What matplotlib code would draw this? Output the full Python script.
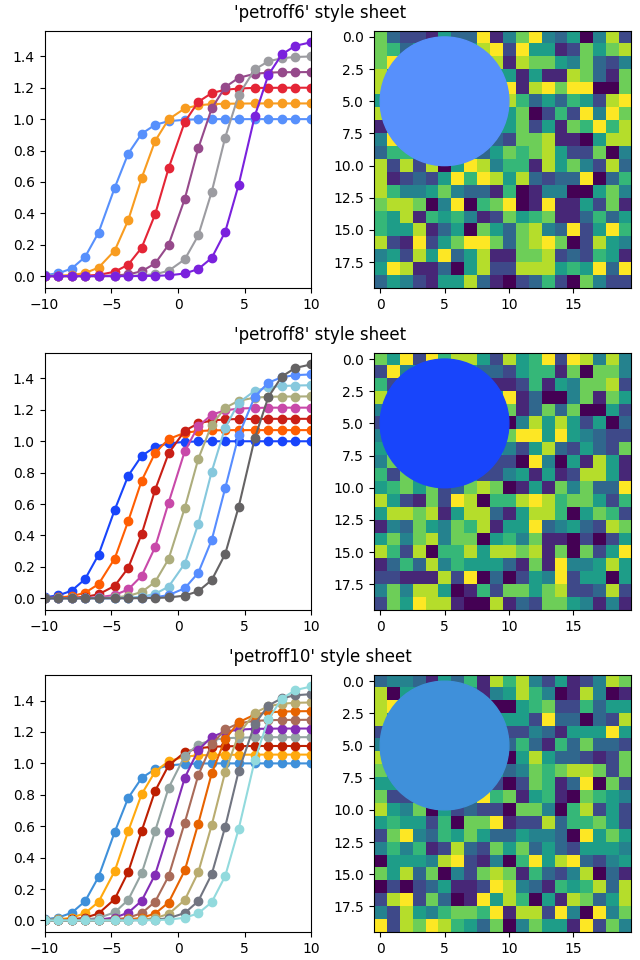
import matplotlib.pyplot as plt
import numpy as np

# x positions of the markers (also the line vertices)
x_pts = [-10.0, -8.99, -7.98, -6.97, -5.96, -4.747, -3.737, -2.727, -1.717, -0.707,
         0.505, 1.515, 2.525, 3.535, 4.545, 5.758, 6.768, 7.778, 8.788, 10.0]

# shared first / last curves
y_first = [0.007, 0.018, 0.048, 0.122, 0.277, 0.563, 0.780, 0.907, 0.964, 0.987,
           0.996, 0.999, 1.0, 1.0, 1.0, 1.0, 1.0, 1.0, 1.0, 1.0]
y_last = [0.0, 0.0, 0.0, 0.0, 0.0, 0.0, 0.0, 0.001, 0.002, 0.005,
          0.017, 0.045, 0.116, 0.282, 0.582, 1.021, 1.281, 1.412, 1.467, 1.490]

y_petroff6 = [
    y_first,
    [0.001, 0.003, 0.007, 0.020, 0.054, 0.163, 0.356, 0.625, 0.861, 0.999,
     1.068, 1.088, 1.096, 1.098, 1.099, 1.1, 1.1, 1.1, 1.1, 1.1],
    [0.0, 0.0, 0.001, 0.003, 0.008, 0.028, 0.073, 0.181, 0.394, 0.687,
     0.982, 1.110, 1.166, 1.187, 1.195, 1.199, 1.199, 1.2, 1.2, 1.2],
    [0.0, 0.0, 0.0, 0.0, 0.001, 0.004, 0.011, 0.031, 0.081, 0.200,
     0.492, 0.814, 1.068, 1.204, 1.263, 1.289, 1.296, 1.299, 1.299, 1.3],
    [0.0, 0.0, 0.0, 0.0, 0.0, 0.001, 0.002, 0.005, 0.012, 0.034,
     0.107, 0.259, 0.537, 0.883, 1.154, 1.317, 1.368, 1.388, 1.396, 1.399],
    y_last,
]

y_petroff8 = [
    y_first,
    [0.002, 0.005, 0.013, 0.035, 0.090, 0.253, 0.491, 0.749, 0.926, 1.014,
     1.054, 1.065, 1.069, 1.071, 1.071, 1.071, 1.071, 1.071, 1.071, 1.071],
    [0.0, 0.001, 0.003, 0.009, 0.025, 0.079, 0.193, 0.409, 0.691, 0.923,
     1.067, 1.114, 1.132, 1.139, 1.142, 1.142, 1.143, 1.143, 1.143, 1.143],
    [0.0, 0.0, 0.001, 0.002, 0.006, 0.021, 0.056, 0.143, 0.326, 0.609,
     0.937, 1.096, 1.169, 1.197, 1.208, 1.212, 1.214, 1.214, 1.214, 1.214],
    [0.0, 0.0, 0.0, 0.001, 0.002, 0.005, 0.015, 0.040, 0.104, 0.250,
     0.576, 0.887, 1.105, 1.213, 1.258, 1.278, 1.283, 1.285, 1.285, 1.286],
    [0.0, 0.0, 0.0, 0.0, 0.0, 0.001, 0.004, 0.010, 0.028, 0.074,
     0.221, 0.472, 0.807, 1.087, 1.245, 1.322, 1.344, 1.352, 1.355, 1.357],
    [0.0, 0.0, 0.0, 0.0, 0.0, 0.0, 0.001, 0.003, 0.007, 0.020,
     0.064, 0.162, 0.371, 0.701, 1.037, 1.285, 1.373, 1.408, 1.421, 1.426],
    y_last,
]

y_petroff10 = [
    y_first,
    [0.002, 0.006, 0.017, 0.046, 0.118, 0.314, 0.568, 0.804, 0.948, 1.014,
     1.043, 1.051, 1.054, 1.055, 1.055, 1.056, 1.056, 1.056, 1.056, 1.056],
    [0.001, 0.002, 0.006, 0.017, 0.044, 0.136, 0.308, 0.570, 0.825, 0.987,
     1.071, 1.096, 1.106, 1.109, 1.110, 1.111, 1.111, 1.111, 1.111, 1.111],
    [0.0, 0.001, 0.002, 0.006, 0.016, 0.051, 0.131, 0.300, 0.569, 0.844,
     1.048, 1.120, 1.149, 1.160, 1.164, 1.166, 1.167, 1.167, 1.167, 1.167],
    [0.0, 0.0, 0.001, 0.002, 0.005, 0.018, 0.049, 0.125, 0.292, 0.565,
     0.908, 1.085, 1.169, 1.202, 1.215, 1.220, 1.221, 1.222, 1.222, 1.222],
    [0.0, 0.0, 0.0, 0.001, 0.002, 0.006, 0.017, 0.046, 0.119, 0.282,
     0.623, 0.924, 1.121, 1.216, 1.255, 1.271, 1.275, 1.277, 1.277, 1.278],
    [0.0, 0.0, 0.0, 0.0, 0.001, 0.002, 0.006, 0.016, 0.044, 0.114,
     0.318, 0.616, 0.936, 1.155, 1.262, 1.311, 1.325, 1.330, 1.332, 1.333],
    [0.0, 0.0, 0.0, 0.0, 0.0, 0.001, 0.002, 0.006, 0.015, 0.041,
     0.130, 0.306, 0.607, 0.945, 1.186, 1.322, 1.364, 1.380, 1.386, 1.388],
    [0.0, 0.0, 0.0, 0.0, 0.0, 0.0, 0.001, 0.002, 0.005, 0.014,
     0.047, 0.123, 0.294, 0.596, 0.951, 1.251, 1.368, 1.415, 1.434, 1.441],
    y_last,
]

colors_petroff6 = ['#5790fc', '#f89c20', '#e42536', '#964a8b', '#9c9ca1', '#7a21dd']
colors_petroff8 = ['#1845fb', '#ff5e02', '#c91f16', '#c849a9', '#adad7d', '#86c8dd',
                   '#578dff', '#656364']
colors_petroff10 = ['#3f90da', '#ffa90e', '#bd1f01', '#94a4a2', '#832db6', '#a96b59',
                    '#e76300', '#b9ac70', '#717581', '#92dadd']

# 20x20 image cells, each digit is a level 0..9 of the colour map
img_petroff6 = [
    "73221533914794350482",
    "76355555892955127578",
    "79555555581877547324",
    "85555555555151187317",
    "85555555559189799007",
    "55555555558635365289",
    "85555555555702629497",
    "15555555555725176968",
    "49555555532778110588",
    "36655555357678522704",
    "82828059846618574283",
    "81232596985832339036",
    "86445743316014400574",
    "78870490679019115271",
    "65816564127567113635",
    "65581350753784392596",
    "82192579973789702854",
    "45285935811778232651",
    "59811305822888565939",
    "35421558310236207422",
]
img_petroff8 = [
    "75929688528569298484",
    "29455555332566170774",
    "62555555511261547782",
    "85555555559130047175",
    "45555555557137370052",
    "25555555550485852503",
    "45555555557995954322",
    "55555555554258325327",
    "47555555522094051851",
    "62755555224515128851",
    "56757237870151747339",
    "85217298066898677526",
    "58878158831588605762",
    "14375476815593453287",
    "57478477056471102025",
    "86280668588781707259",
    "13638465553171944585",
    "22111829030254925505",
    "47488501627757822382",
    "27598810081327754141",
]
img_petroff10 = [
    "34431536186842512487",
    "80555555145864018401",
    "89555555500567226355",
    "85555555555529330328",
    "25555555552243155595",
    "45555555553631637332",
    "85555555550585332127",
    "75555555553476788727",
    "55555555520276139072",
    "72255555967156107654",
    "85470523220774068252",
    "56552607791228366752",
    "27943657533544309575",
    "46461283275735325554",
    "05554892140695893245",
    "75837042787163248031",
    "02023511298431656838",
    "28927301958605187358",
    "42854677691882940947",
    "92879865370475519274",
]

styles = ["petroff6", "petroff8", "petroff10"]
curves = [y_petroff6, y_petroff8, y_petroff10]
palettes = [colors_petroff6, colors_petroff8, colors_petroff10]
images = [img_petroff6, img_petroff8, img_petroff10]


def colored_lines(ax, ys, colors):
    for y, c in zip(ys, colors):
        ax.plot(x_pts, y, '-', color=c)
        ax.plot(x_pts, y, 'o', color=c)
    ax.set_xlim(-10, 10)


def image_and_patch(ax, rows, color):
    data = np.array([[int(ch) for ch in r] for r in rows]) / 9.0
    ax.imshow(data, interpolation='none', cmap='viridis', vmin=0, vmax=1)
    ax.add_patch(plt.Circle((5, 5), radius=5, color=color))


fig = plt.figure(figsize=(6.4, 9.6), layout='compressed')
sfigs = fig.subfigures(nrows=3)

for style, sfig, ys, cols, img in zip(styles, sfigs, curves, palettes, images):
    sfig.suptitle(f"'{style}' style sheet")
    ax1, ax2 = sfig.subplots(ncols=2)
    colored_lines(ax1, ys, cols)
    image_and_patch(ax2, img, cols[0])

fig.savefig("out.png", dpi=100)
